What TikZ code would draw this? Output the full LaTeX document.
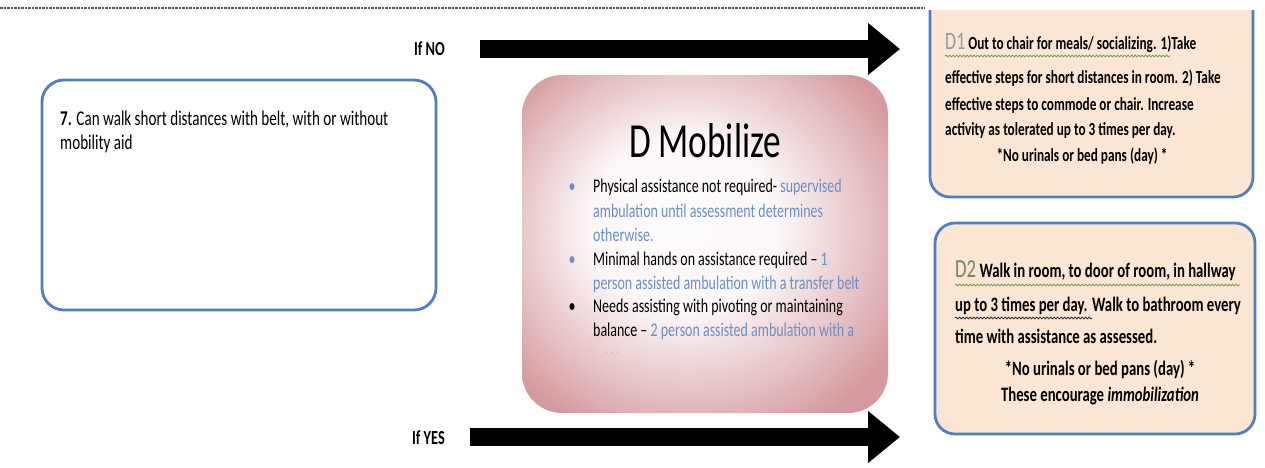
\documentclass[tikz,border=0pt]{standalone}
\usepackage{fontspec}
\setmainfont{Carlito}[FakeStretch=0.72]
\usetikzlibrary{arrows.meta,decorations.pathmorphing}
\definecolor{boxblue}{HTML}{4F7FBF}
\definecolor{txtblue}{HTML}{6A90C4}
\definecolor{peach}{HTML}{FBE5D3}
\definecolor{pinkc}{HTML}{D59A9F}
\definecolor{donegray}{HTML}{8E9BAE}
\definecolor{dtwogreen}{HTML}{6F8A68}
\definecolor{wavegreen}{HTML}{7DA24A}
\pgfdeclareradialshading{softpink}{\pgfpoint{-4bp}{4bp}}{%
  color(0bp)=(white!96!pinkc);
  color(13bp)=(white!92!pinkc);
  color(24bp)=(pinkc!60!white);
  color(32bp)=(pinkc);
  color(50bp)=(pinkc)}
\begin{document}
\begin{tikzpicture}[x=1pt,y=-1pt,
  qbox/.style={draw=boxblue, line width=2.8pt, fill=white, rounded corners=22pt, inner sep=0pt},
  dbox/.style={draw=boxblue, line width=2.8pt, fill=peach, rounded corners=20pt, inner sep=0pt},
  txt/.style={anchor=base west, inner sep=0pt, font=\fontsize{19.4}{22}\selectfont},
  qtxt/.style={txt, font=\fontsize{21}{22}\selectfont},
  done/.style={txt, font=\bfseries\fontsize{18.4}{20}\selectfont},
  dtwo/.style={txt, font=\bfseries\fontsize{20.5}{22}\selectfont},
  lbl/.style={anchor=base east, inner sep=0pt, font=\bfseries\fontsize{19.9}{22}\selectfont},
  bul/.style={anchor=base, inner sep=0pt, font=\fontsize{19.4}{22}\selectfont},
  bigarrow/.style={line width=18pt, -{Triangle[length=32pt,width=50pt]}},
  wavy/.style={decorate, decoration={snake, amplitude=0.9pt, segment length=3.5pt}, line width=0.8pt}
]
\useasboundingbox (0,0) rectangle (1265,467);

% top dotted rule
\coordinate (topL) at (0,8);
\coordinate (topR) at (925,8);
\draw[dash pattern=on 2.5pt off 1pt, line width=1.2pt, black!65] (topL) -- (topR);

% question box
\node[qbox, minimum width=394pt, minimum height=230pt] (q7) at (239,195) {};
\node[qtxt] (q7a) at (60,125) {\textbf{7.} Can walk short distances with belt, with or without};
\node[qtxt] (q7b) at (60,149) {mobility aid};

% centre box
\node[shading=softpink, rounded corners=40pt,
      minimum width=366pt, minimum height=338pt, inner sep=0pt] (dm) at (705,244) {};
\node[anchor=base, inner sep=0pt, font=\fontsize{49}{52}\selectfont] (title) at (705,157) {D Mobilize};
\node[bul, txtblue] (b1) at (572,192) {\textbullet};
\node[txt] (l1) at (593,192) {Physical assistance not required- \textcolor{txtblue}{supervised}};
\node[txt, txtblue] (l2) at (593,217) {ambulation until assessment determines};
\node[txt, txtblue] (l3) at (593,241) {otherwise.};
\node[bul, txtblue] (b2) at (572,265) {\textbullet};
\node[txt] (l4) at (593,265) {Minimal hands on assistance required – \textcolor{txtblue}{1}};
\node[txt, txtblue] (l5) at (593,289) {person assisted ambulation with a transfer belt};
\node[bul] (b3) at (572,312) {\textbullet};
\node[txt] (l6) at (593,312) {Needs assisting with pivoting or maintaining};
\node[txt] (l7) at (593,336) {balance – \textcolor{txtblue}{2 person assisted ambulation with a}};
\node[txt, black!35, font=\fontsize{10}{12}\selectfont] (l8) at (606,355) {·\ \ ·\ \ ·};

% D1 box (top cut off)
\begin{scope}
\clip (900,10) rectangle (1265,467);
\node[dbox, minimum width=323pt, minimum height=227pt] (d1) at (1091.5,83.5) {};
\end{scope}
\node[done] (d1a) at (945,49) {{\mdseries\fontsize{25}{22}\selectfont\color{donegray}D1} Out to chair for meals/ socializing. 1)Take};
\node[done] (d1b) at (945,83) {effective steps for short distances in room. 2) Take};
\node[done] (d1c) at (945,110) {effective steps to commode or chair. Increase};
\node[done] (d1d) at (945,135) {activity as tolerated up to 3 times per day.};
\node[done, anchor=base] (d1e) at (1082,161) {*No urinals or bed pans (day) *};
\coordinate (w1s) at (945,56);
\coordinate (w1e) at (1170,56);
\draw[wavy, wavegreen] (w1s) -- (w1e);

% D2 box
\node[dbox, minimum width=320pt, minimum height=211pt] (d2) at (1095,328.5) {};
\node[dtwo] (d2a) at (955,277) {{\mdseries\fontsize{26}{22}\selectfont\color{dtwogreen}D2} Walk in room, to door of room, in hallway};
\node[dtwo] (d2b) at (955,311) {up to 3 times per day. Walk to bathroom every};
\node[dtwo] (d2c) at (955,343) {time with assistance as assessed.};
\node[dtwo, anchor=base] (d2d) at (1100,375) {*No urinals or bed pans (day) *};
\node[dtwo, anchor=base] (d2e) at (1100,401) {These encourage \textit{immobilization}};
\coordinate (w2s) at (955,285);
\coordinate (w2e) at (1240,285);
\draw[wavy, wavegreen] (w2s) -- (w2e);
\coordinate (w3s) at (955,318);
\coordinate (w3e) at (1092,318);
\draw[wavy, black!80] (w3s) -- (w3e);

% labels and arrows
\node[lbl] (ifno) at (445,55) {If NO};
\node[lbl] (ifyes) at (445,444) {If YES};
\coordinate (noS) at (480,49);
\coordinate (noE) at (900,49);
\draw[bigarrow] (noS) -- (noE);
\coordinate (yesS) at (470,437);
\coordinate (yesE) at (900,437);
\draw[bigarrow] (yesS) -- (yesE);
\end{tikzpicture}
\end{document}
